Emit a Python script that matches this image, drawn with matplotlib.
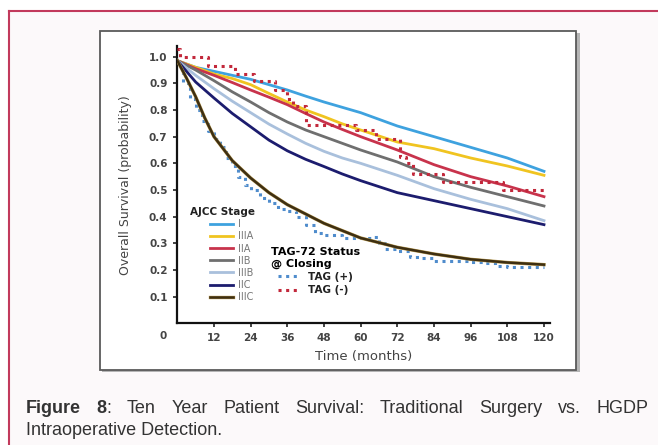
import matplotlib
matplotlib.use("Agg")
import matplotlib.pyplot as plt
import matplotlib.patheffects as pe
from matplotlib.lines import Line2D
from matplotlib.patches import Rectangle

W, H = 658, 445

# ---- data (months, survival probability) ----
months = [0, 6, 12, 18, 24, 30, 36, 42, 48, 54, 60, 72, 84, 96, 108, 120]
stage_names = ["I", "IIIA", "IIA", "IIB", "IIIB", "IIC"]
stage_I = [0.985, 0.960, 0.945, 0.930, 0.915, 0.895, 0.875, 0.852, 0.830, 0.810, 0.790,
           0.740, 0.700, 0.660, 0.620, 0.570]
stage_IIIA = [0.985, 0.960, 0.935, 0.918, 0.895, 0.862, 0.830, 0.800, 0.775, 0.748, 0.725,
              0.680, 0.655, 0.620, 0.590, 0.555]
stage_IIA = [0.985, 0.955, 0.930, 0.903, 0.875, 0.848, 0.820, 0.787, 0.755, 0.727, 0.700,
             0.650, 0.595, 0.550, 0.515, 0.475]
stage_IIB = [0.985, 0.950, 0.910, 0.868, 0.830, 0.790, 0.755, 0.725, 0.700, 0.675, 0.650,
             0.605, 0.550, 0.510, 0.475, 0.440]
stage_IIIB = [0.985, 0.930, 0.880, 0.833, 0.790, 0.747, 0.710, 0.675, 0.645, 0.620, 0.600,
              0.555, 0.505, 0.465, 0.430, 0.385]
stage_IIC = [0.985, 0.905, 0.845, 0.787, 0.737, 0.687, 0.647, 0.615, 0.588, 0.560, 0.535,
             0.490, 0.460, 0.430, 0.400, 0.370]

months_IIIC = [0, 3, 6, 9, 12, 18, 24, 30, 36, 48, 60, 72, 84, 96, 108, 120]
stage_IIIC = [0.985, 0.920, 0.850, 0.770, 0.700, 0.610, 0.545, 0.490, 0.445, 0.375,
              0.320, 0.285, 0.260, 0.240, 0.228, 0.220]

tag_pos_t = [0, 2, 4, 6, 8, 10, 12, 14, 16, 18, 20, 22, 24, 27, 30, 33, 36, 39, 42, 45,
             48, 54, 60, 64, 66, 68, 72, 76, 80, 84, 90, 96, 100, 104, 108, 114, 120]
tag_pos_s = [0.98, 0.90, 0.84, 0.80, 0.76, 0.72, 0.69, 0.66, 0.62, 0.59, 0.55, 0.52, 0.50,
             0.47, 0.45, 0.43, 0.42, 0.40, 0.37, 0.34, 0.33, 0.32, 0.32, 0.325, 0.30, 0.28,
             0.27, 0.25, 0.245, 0.235, 0.235, 0.23, 0.225, 0.215, 0.21, 0.21, 0.21]

tag_neg_t = [0, 1, 10, 19, 25, 32, 36, 38, 42, 58.5, 65, 73, 75, 77, 87, 106.5, 120]
tag_neg_s = [1.03, 1.0, 0.965, 0.935, 0.91, 0.875, 0.84, 0.815, 0.745, 0.725, 0.69,
             0.625, 0.60, 0.56, 0.53, 0.50, 0.50]

stage_colors = ["#3ea2df", "#f0c420", "#c8334c", "#6f6f6f", "#a9c0dc", "#1c1c6e"]
iiic_color = "#3e2f12"


def fx(px):
    return px / W


def fy(py):
    return 1 - py / H


fig = plt.figure(figsize=(W / 100, H / 100), dpi=100)
fig.patch.set_facecolor("white")

# page card with crimson top/left border
fig.patches.append(Rectangle((fx(9), 0), 1 - fx(9), fy(11), transform=fig.transFigure,
                             facecolor="#fcf9fa", edgecolor="none", zorder=-5))
fig.lines.append(Line2D([fx(9), 1], [fy(11), fy(11)], transform=fig.transFigure,
                        color="#c23a5c", lw=1.5, zorder=-4))
fig.lines.append(Line2D([fx(9), fx(9)], [0, fy(11)], transform=fig.transFigure,
                        color="#c23a5c", lw=1.5, zorder=-4))

# inner white figure box with shadow
fig.patches.append(Rectangle((fx(102), fy(372)), fx(578) - fx(100), fy(31) - fy(370),
                             transform=fig.transFigure, facecolor="#b5b5b5",
                             edgecolor="none", zorder=-3))
fig.patches.append(Rectangle((fx(100), fy(370)), fx(576) - fx(100), fy(31) - fy(370),
                             transform=fig.transFigure, facecolor="white",
                             edgecolor="#5a5a5a", lw=1.3, zorder=-2))

ax = fig.add_axes([fx(177.3), fy(323.3), 372.8 / W, 277.3 / H])
ax.set_facecolor("none")
ax.set_xlim(0, 122)
ax.set_ylim(0, 1.04)

stages = [stage_I, stage_IIIA, stage_IIA, stage_IIB, stage_IIIB, stage_IIC]
handles = []
for name, vals, c in zip(stage_names, stages, stage_colors):
    ln, = ax.plot(months, vals, color=c, lw=2.0, label=name, zorder=3)
    handles.append(ln)
ln, = ax.plot(months_IIIC, stage_IIIC, color=iiic_color, lw=1.8, label="IIIC", zorder=3,
              path_effects=[pe.Stroke(linewidth=2.4, foreground="#b89a50"), pe.Normal()])
handles.append(ln)

dots = (0, (1.0, 1.5))
tp, = ax.plot(tag_pos_t, tag_pos_s, drawstyle="steps-post", color="#4f8ccc", lw=2.2,
              ls=dots, label="TAG (+)", zorder=2)
tn, = ax.plot(tag_neg_t, tag_neg_s, drawstyle="steps-post", color="#c2283b", lw=2.2,
              ls=dots, label="TAG (-)", zorder=4)

for s in ["top", "right"]:
    ax.spines[s].set_visible(False)
for s in ["left", "bottom"]:
    ax.spines[s].set_linewidth(1.6)
    ax.spines[s].set_color("#111111")

ax.set_xticks(range(12, 121, 12))
ax.set_yticks([i / 10 for i in range(1, 11)])
ax.set_yticklabels([f"{i / 10:.1f}" for i in range(1, 11)])
ax.tick_params(length=3, width=1.2, color="#222222", labelsize=7.5, labelcolor="#444444",
               pad=4)
for t in ax.get_xticklabels() + ax.get_yticklabels():
    t.set_fontweight("bold")
ax.annotate("0", xy=(0, 0), xytext=(-10, -9), textcoords="offset points", ha="center",
            va="center", fontsize=7.5, fontweight="bold", color="#444444",
            annotation_clip=False)

ax.set_xlabel("Time (months)", fontsize=9.5, color="#444444", labelpad=5)
ax.set_ylabel("Overall Survival (probability)", fontsize=9, color="#444444",
              family=["Liberation Sans Narrow", "DejaVu Sans"], labelpad=12)

# legends
ax.text(0.035, 0.40, "AJCC Stage", transform=ax.transAxes, fontsize=7.5,
        fontweight="bold", color="#222222", va="center")
leg1 = ax.legend(handles=handles, loc="upper left", bbox_to_anchor=(0.088, 0.375),
                 frameon=False, fontsize=7, labelcolor="#777777", handlelength=2.4,
                 handletextpad=0.5, labelspacing=0.22, borderpad=0, borderaxespad=0)
ax.add_artist(leg1)
leg2 = ax.legend(handles=[tp, tn], loc="upper left", bbox_to_anchor=(0.25, 0.275),
                 frameon=False, fontsize=7.5, handlelength=2.2, handletextpad=0.7,
                 labelspacing=0.3, borderpad=0, borderaxespad=0,
                 title="TAG-72 Status\n@ Closing",
                 title_fontproperties={"weight": "bold", "size": 8})
for t in leg2.get_texts():
    t.set_fontweight("bold")
    t.set_color("#222222")

# justified caption
cap_font = ["Liberation Sans", "DejaVu Sans"]
cap_size = 13
line1 = [[("Figure", "bold")], [("8", "bold"), (":", "normal")], [("Ten", "normal")],
         [("Year", "normal")], [("Patient", "normal")], [("Survival:", "normal")],
         [("Traditional", "normal")], [("Surgery", "normal")], [("vs.", "normal")],
         [("HGDP", "normal")]]
renderer = fig.canvas.get_renderer()
word_widths = []
word_artists = []
for word in line1:
    arts = []
    w = 0
    for piece, weight in word:
        t = fig.text(0, fy(413), piece, fontsize=cap_size, fontweight=weight,
                     family=cap_font, color="#333333", va="baseline")
        ext = t.get_window_extent(renderer)
        arts.append((t, w))
        w += ext.width
    word_artists.append(arts)
    word_widths.append(w)
left, right = 26, 648
gap = (right - left - sum(word_widths)) / (len(line1) - 1)
x = left
for arts, w in zip(word_artists, word_widths):
    for t, off in arts:
        t.set_x(fx(x + off))
    x += w + gap

fig.text(fx(26), fy(435), "Intraoperative Detection.", fontsize=cap_size,
         family=cap_font, color="#333333", va="baseline")

fig.savefig("out.png", dpi=100, facecolor=fig.get_facecolor())
